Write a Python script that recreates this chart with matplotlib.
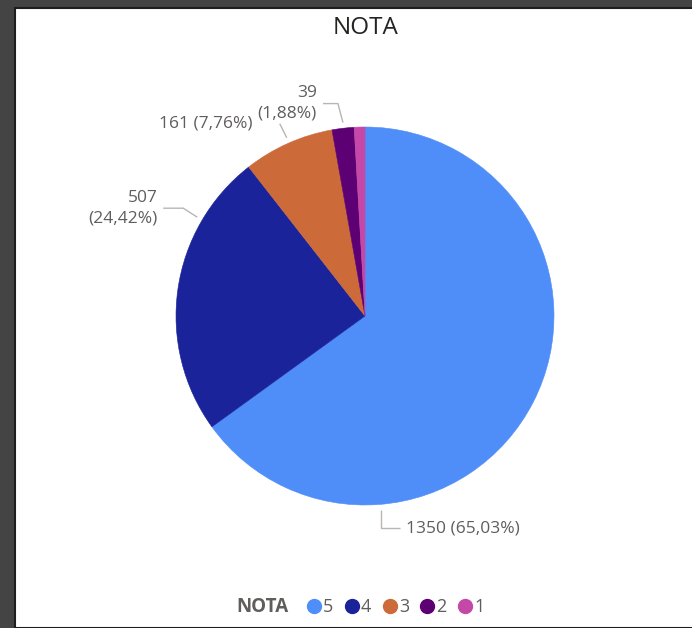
import numpy as np
import matplotlib
matplotlib.use("Agg")
import matplotlib.pyplot as plt
from matplotlib.patches import Rectangle
from matplotlib.lines import Line2D

# ---- data ----
categories = ["5", "4", "3", "2", "1"]
values = [1350, 507, 161, 39, 19]
colors = ["#4F8EF8", "#1A2399", "#CD6A3A", "#5C0073", "#C548A8"]
title = "NOTA"
legend_title = "NOTA"

FONT = "Open Sans"
TXT = "#605E5C"
LINE = "#B8B5B2"

W, H = 692, 628
fig = plt.figure(figsize=(W / 100, H / 100), dpi=100)
fig.patch.set_facecolor("#444444")
# white report canvas
fig.patches.append(Rectangle((15 / W, 0), 1, (H - 8) / H, transform=fig.transFigure,
                             facecolor="white", edgecolor="#1E1E1E", linewidth=1.5, zorder=-5))

cx, cy, R = 365, 316, 189
ax = fig.add_axes([(cx - R) / W, (H - cy - R) / H, 2 * R / W, 2 * R / H])
ax.set_zorder(2)
ax.patch.set_visible(False)

wedges, _ = ax.pie(values, colors=colors, startangle=90, counterclock=False,
                   radius=1, wedgeprops=dict(linewidth=0.4, edgecolor="none"))
for w, c in zip(wedges, colors):
    w.set_edgecolor(c)
ax.set_xlim(-1, 1)
ax.set_ylim(-1, 1)
ax.set_aspect("equal")
ax.axis("off")

total = sum(values)
def fmt(v):
    return f"{v}", f"({v / total * 100:.2f}%)".replace(".", ",")

# label layout (style): anchor angle on rim, elbow offsets in px, text placement
layout = {
    "5": dict(ang=-85.3, seg=[(0, 18), (19, 0)], ha="left", two=False),
    "4": dict(ang=149.5, seg=[(-14, -9), (-20, 0)], ha="right", two=True),
    "3": dict(ang=113.7, seg=[(-7, -14)], ha="right", two=False, gap=27),
    "2": dict(ang=96.5, seg=[(-5, -19), (-15, 0)], ha="right", two=True),
}

for cat, v in zip(categories, values):
    if cat not in layout:
        continue
    L = layout[cat]
    a = np.deg2rad(L["ang"])
    r0 = 1.03
    x, y = r0 * np.cos(a), r0 * np.sin(a)
    xs, ys = [x], [y]
    for dx, dy in L["seg"]:
        x += dx / R
        y -= dy / R
        xs.append(x)
        ys.append(y)
    ax.plot(xs, ys, color=LINE, lw=1.0, clip_on=False, solid_capstyle="butt")
    n, p = fmt(v)
    s = f"{n}\n{p}" if L["two"] else f"{n} {p}"
    gap = L.get("gap", 6) / R
    tx = x + gap if L["ha"] == "left" else x - gap
    ax.text(tx, y, s, ha=L["ha"], va="center", fontsize=12.5, color=TXT,
            family=FONT, linespacing=1.4, multialignment=L["ha"])

fig.text(366 / W, 1 - 28 / H, title, ha="center", va="center", fontsize=17.5,
         color="#252423", family=FONT)

# legend
fig.text(288 / W, 1 - 607 / H, legend_title, ha="right", va="center", fontsize=13.5,
         color=TXT, family=FONT, weight="bold")
handles = [Line2D([], [], marker="o", linestyle="none", markersize=10,
                  markerfacecolor=c, markeredgecolor=c) for c in colors]
leg = fig.legend(handles, categories, loc="center left", ncol=len(categories),
                 bbox_to_anchor=(298 / W, 1 - 607 / H), frameon=False, borderpad=0,
                 handlelength=0.8, handletextpad=0.1, columnspacing=0.62,
                 prop=dict(family=FONT, size=13))
for t in leg.get_texts():
    t.set_color(TXT)

fig.savefig("out.png", dpi=100, facecolor=fig.get_facecolor())
